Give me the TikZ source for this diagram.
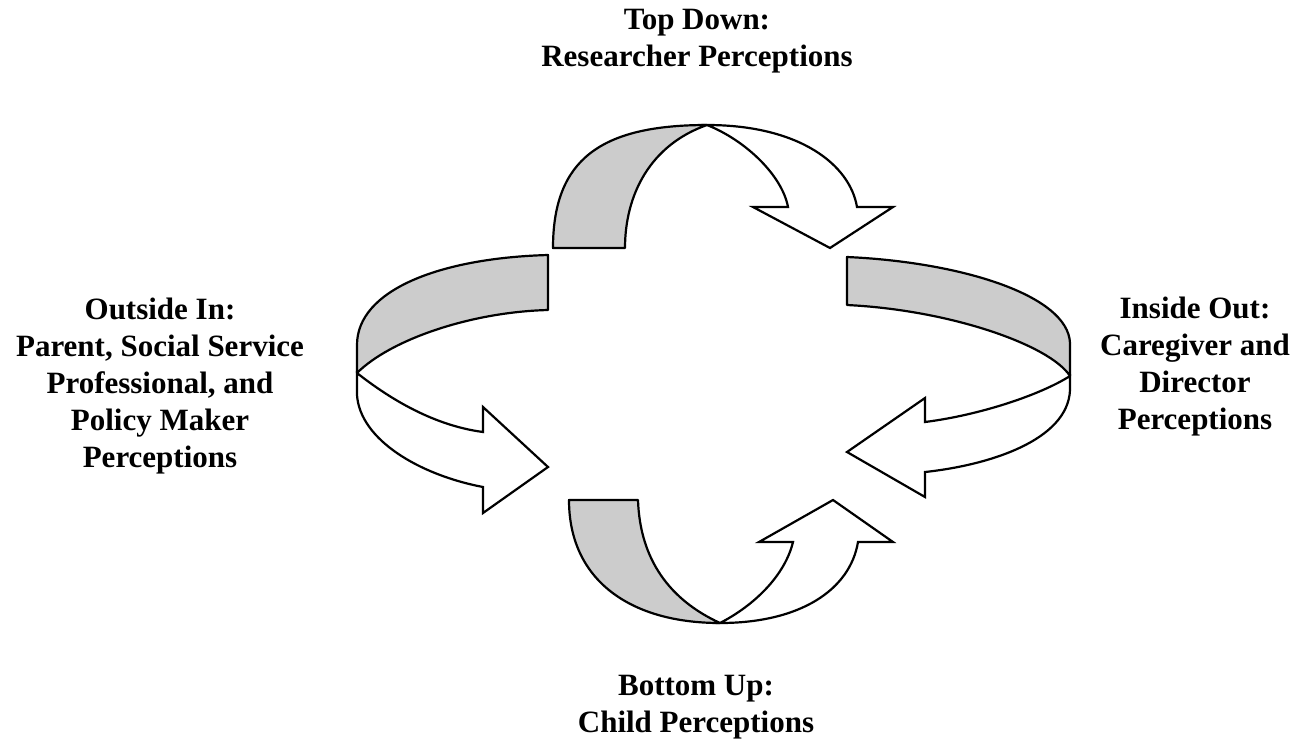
\documentclass[tikz,border=0pt]{standalone}
\usepackage{fontspec}
\setmainfont{Liberation Serif}
\begin{document}
\begin{tikzpicture}[x=1pt,y=-1pt,
  back/.style={fill=black!20, draw=black, line width=2.2pt, line join=round},
  front/.style={fill=white, draw=black, line width=2.2pt, line join=miter},
  lbl/.style={font=\fontsize{31}{37}\selectfont\bfseries, align=center, inner sep=0pt}]
\useasboundingbox (0,0) rectangle (1291,740);

% top arrow
\coordinate (tC) at (707,125);
\path[back] (553,248) -- (625,248) .. controls (625,195) and (650,145) .. (tC)
  .. controls (600,125) and (553,160) .. cycle;
\path[front] (tC) .. controls (800,125) and (850,165) .. (857,207) -- (893,207) -- (830,248)
  -- (753,207) -- (788,207) .. controls (782,175) and (745,140) .. cycle;

% left arrow
\coordinate (lC) at (357,373);
\path[back] (548,255) .. controls (440,258) and (357,290) .. (357,345) -- (lC)
  .. controls (390,340) and (470,312) .. (548,310) -- cycle;
\path[front] (lC) -- (357,395) .. controls (360,440) and (420,475) .. (483,487) -- (483,513)
  -- (548,467) -- (483,407) -- (483,432) .. controls (430,425) and (385,395) .. cycle;

% right arrow
\coordinate (rC) at (1070,376);
\path[back] (847,257) .. controls (960,262) and (1068,295) .. (1070,343) -- (rC)
  .. controls (1050,345) and (950,310) .. (847,305) -- cycle;
\path[front] (rC) -- (1070,390) .. controls (1068,440) and (990,465) .. (925,472) -- (925,497)
  -- (847,452) -- (925,398) -- (925,422) .. controls (980,415) and (1040,395) .. cycle;

% bottom arrow
\coordinate (bC) at (720,623);
\path[back] (569,500) .. controls (569,580) and (630,623) .. (bC)
  .. controls (670,600) and (640,560) .. (638,500) -- cycle;
\path[front] (bC) .. controls (800,623) and (850,590) .. (858,542) -- (893,542) -- (833,500)
  -- (759,542) -- (793,542) .. controls (785,575) and (755,605) .. cycle;

% labels
\node[lbl] (top) at (697,41) {Top Down:\\Researcher Perceptions};
\node[lbl] (left) at (160,386) {Outside In:\\Parent, Social Service\\Professional, and\\Policy Maker\\Perceptions};
\node[lbl] (right) at (1195,367) {Inside Out:\\Caregiver and\\Director\\Perceptions};
\node[lbl] (bottom) at (696,707) {Bottom Up:\\Child Perceptions};
\end{tikzpicture}
\end{document}
